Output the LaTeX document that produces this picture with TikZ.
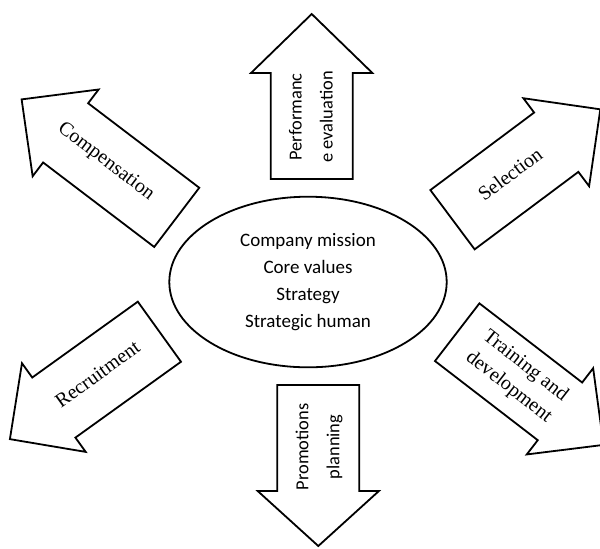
\documentclass[tikz,border=0pt]{standalone}
\usepackage{fontspec}
\setmainfont{Liberation Serif}
\newfontfamily\calibri{Carlito}
\usetikzlibrary{shapes.geometric}

\begin{document}
\begin{tikzpicture}[x=0.5pt, y=-0.5pt, line width=0.9pt,
    seriflabel/.style={font=\fontsize{10}{13.4}\selectfont, align=center},
    sanslabel/.style={font=\calibri\fontsize{9.2}{15.5}\selectfont, align=center}]
    \useasboundingbox (0,0) rectangle (600,548);
    \clip (0,0) rectangle (600,548);

    % 中心椭圆
    \node[draw, ellipse, minimum width=138.7pt, minimum height=85.3pt, inner sep=0pt,
        align=center, font=\calibri\fontsize{9.5}{13.6}\selectfont] (core) at (308,282)
        {Company mission\\Core values\\Strategy\\Strategic human};

    % 六个箭头 (尾部中点 / 方向 / 杆长 / 头长 / 半杆宽 / 半头宽)
    \foreach \px/\py/\ang/\len/\hd/\sw/\hw in {
        311.7/179/90/106/59/41/60.7,
        318.3/385/-90/106/55/41/60.6,
        176.75/217.35/142.75/139.6/55.3/37.2/54.5,
        452.5/219.7/36.75/129.5/55/37/54.9,
        159.4/331.7/215.7/130/54.1/37/54.6,
        457.2/332.2/-37.6/129.7/55/36.4/54.4} {
        \begin{scope}[shift={(\px,\py)}, rotate=\ang]
            \draw (0,-\sw) -- (\len,-\sw) -- (\len,-\hw) -- ({\len+\hd},0)
                -- (\len,\hw) -- (\len,\sw) -- (0,\sw) -- cycle;
        \end{scope}
    }

    % 箭头上的文字
    \node[sanslabel, rotate=90] (perf) at (311,117) {Performanc\\e evaluation};
    \node[sanslabel, rotate=90] (promo) at (319,447) {Promotions\\planning};
    \node[seriflabel, rotate=-37.2] (comp) at (105.8,161.7) {Compensation};
    \node[seriflabel, rotate=36.7] (sel) at (510,174) {Selection};
    \node[seriflabel, rotate=35.7] (recr) at (97.5,374.2) {Recruitment};
    \node[seriflabel, rotate=-38] (train) at (517,376.7) {Training and\\development};
\end{tikzpicture}
\end{document}
